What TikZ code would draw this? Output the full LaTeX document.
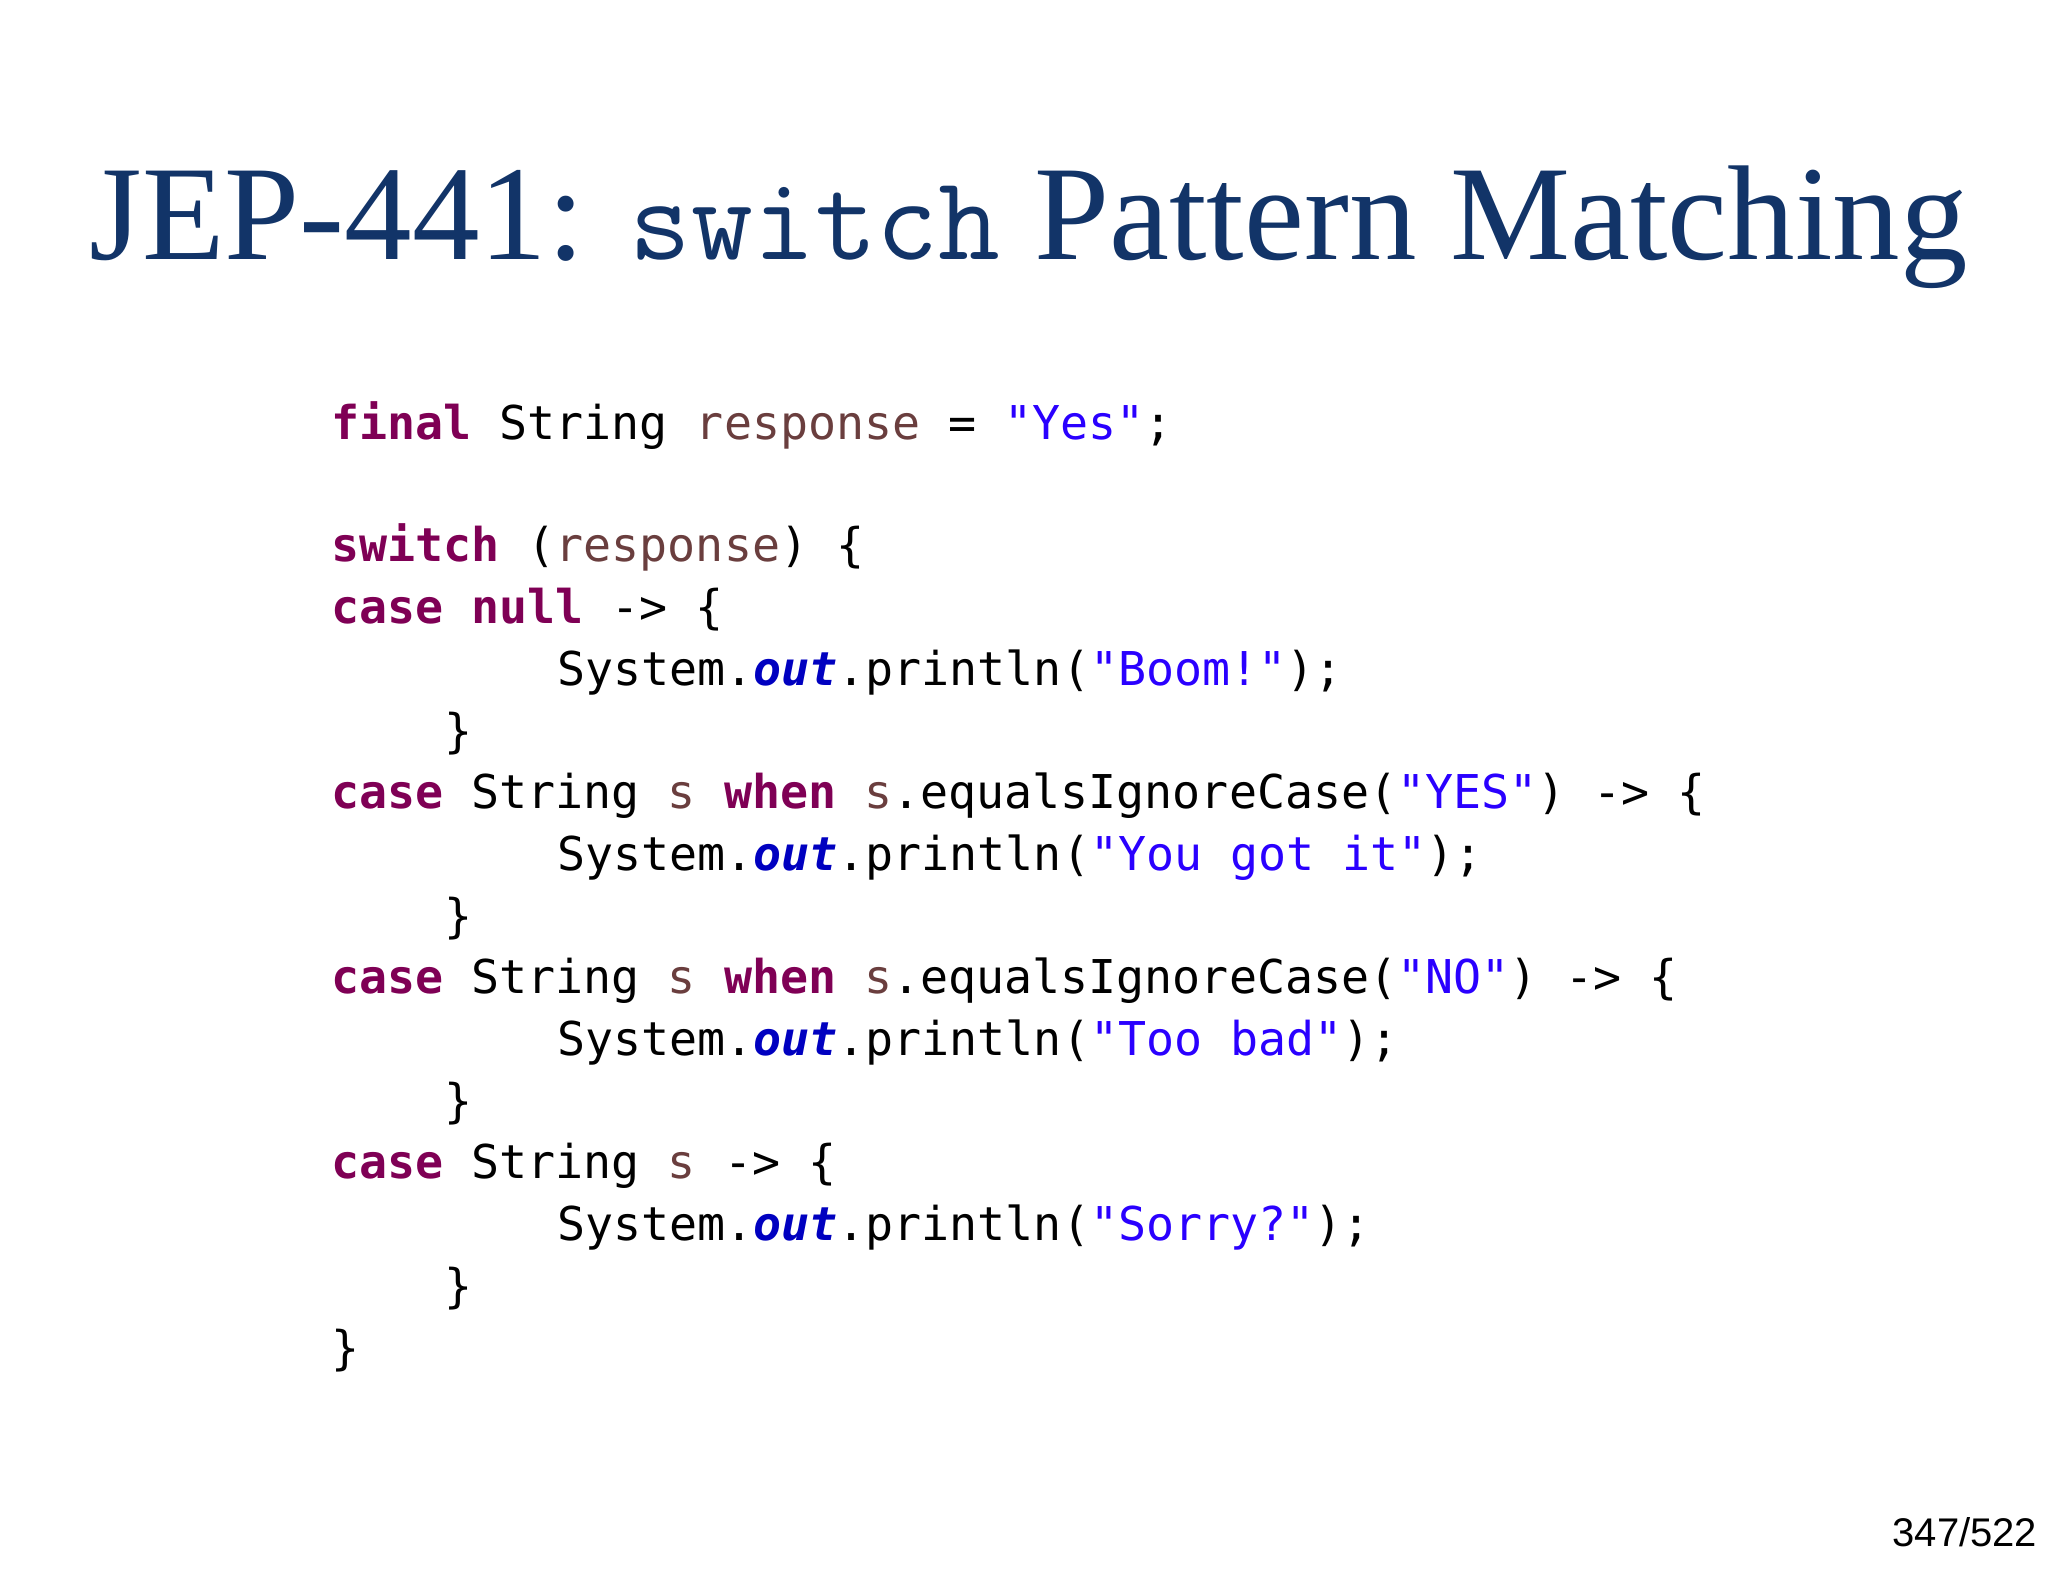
\documentclass[tikz,border=0pt]{standalone}
\usepackage{fontspec}
\setmainfont{Liberation Serif}
\newfontfamily\codefont{DejaVu Sans Mono}
\newfontfamily\pnfont{Liberation Sans}
\definecolor{titleblue}{RGB}{18,52,104}
\definecolor{kw}{RGB}{127,0,85}
\definecolor{var}{RGB}{106,62,62}
\definecolor{str}{RGB}{42,0,255}
\definecolor{fld}{RGB}{0,0,192}
\newcommand{\K}[1]{\textcolor{kw}{\bfseries #1}}
\newcommand{\V}[1]{\textcolor{var}{#1}}
\newcommand{\Q}[1]{\textcolor{str}{#1}}
\newcommand{\F}[1]{\textcolor{fld}{\bfseries\itshape #1}}
\begin{document}
\begin{tikzpicture}[x=0.6564pt,y=-0.6564pt,
  code/.style={anchor=base west,inner sep=0pt,font=\codefont\fontsize{23.3pt}{28pt}\selectfont}]
\useasboundingbox (0,0) rectangle (1560,1205);
\node[anchor=base west,inner sep=0pt,text=titleblue,font=\fontsize{67.5pt}{70pt}\selectfont] (title) at (68,198)
  {JEP-441: {\ttfamily\fontsize{60pt}{62pt}\selectfont switch} Pattern Matching};
\node[code] (l1) at (252,335) {\K{final} String \V{response} = \Q{"Yes"};};
\node[code] (l2) at (252,428) {\K{switch} (\V{response}) \{};
\node[code] (l3) at (252,475) {\K{case} \K{null} -> \{};
\node[code] (l4) at (424,522) {System.\F{out}.println(\Q{"Boom!"});};
\node[code] (l5) at (338,569) {\}};
\node[code] (l6) at (252,616) {\K{case} String \V{s} \K{when} \V{s}.equalsIgnoreCase(\Q{"YES"}) -> \{};
\node[code] (l7) at (424,663) {System.\F{out}.println(\Q{"You got it"});};
\node[code] (l8) at (338,710) {\}};
\node[code] (l9) at (252,757) {\K{case} String \V{s} \K{when} \V{s}.equalsIgnoreCase(\Q{"NO"}) -> \{};
\node[code] (l10) at (424,804) {System.\F{out}.println(\Q{"Too bad"});};
\node[code] (l11) at (338,851) {\}};
\node[code] (l12) at (252,898) {\K{case} String \V{s} -> \{};
\node[code] (l13) at (424,945) {System.\F{out}.println(\Q{"Sorry?"});};
\node[code] (l14) at (338,992) {\}};
\node[code] (l15) at (252,1039) {\}};
\node[anchor=base east,inner sep=0pt,font=\pnfont\fontsize{20pt}{22pt}\selectfont] (pn) at (1552,1178) {347/522};
\end{tikzpicture}
\end{document}
